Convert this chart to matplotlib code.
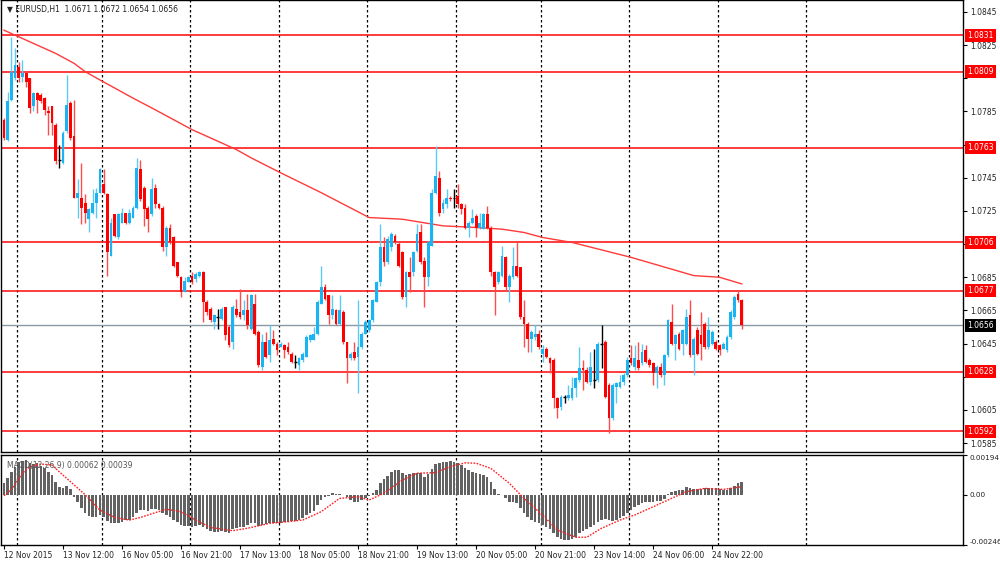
import numpy as np
import matplotlib
matplotlib.use("Agg")
import matplotlib.pyplot as plt
import matplotlib.transforms as mtransforms

# EURUSD H1 bars, 12 Nov 20:00 -> 25 Nov 05:00
opens = np.array([
    1.0780, 1.0768, 1.0792, 1.0805, 1.0812, 1.0806, 1.0808, 1.0805, 1.0788, 1.0796,
    1.0795, 1.0793, 1.0785, 1.0788, 1.0777, 1.0756, 1.0754, 1.0773, 1.0790, 1.0770,
    1.0733, 1.0733, 1.0730, 1.0720, 1.0724, 1.0730, 1.0736, 1.0741, 1.0735, 1.0698,
    1.0723, 1.0709, 1.0718, 1.0724, 1.0718, 1.0721, 1.0727, 1.0750, 1.0739, 1.0727,
    1.0723, 1.0739, 1.0729, 1.0727, 1.0703, 1.0715, 1.0709, 1.0694, 1.0685, 1.0676,
    1.0682, 1.0686, 1.0684, 1.0686, 1.0688, 1.0670, 1.0666, 1.0658, 1.0661, 1.0660,
    1.0667, 1.0655, 1.0646, 1.0666, 1.0664, 1.0662, 1.0665, 1.0654, 1.0669, 1.0652,
    1.0631, 1.0646, 1.0638, 1.0648, 1.0645, 1.0643, 1.0644, 1.0643, 1.0639, 1.0634,
    1.0632, 1.0635, 1.0637, 1.0647, 1.0647, 1.0651, 1.0669, 1.0679, 1.0674, 1.0662,
    1.0665, 1.0657, 1.0664, 1.0646, 1.0636, 1.0640, 1.0637, 1.0643, 1.0651, 1.0653,
    1.0659, 1.0670, 1.0682, 1.0703, 1.0694, 1.0703, 1.0710, 1.0705, 1.0700, 1.0673,
    1.0688, 1.0688, 1.0701, 1.0712, 1.0695, 1.0685, 1.0704, 1.0736, 1.0745, 1.0726,
    1.0729, 1.0733, 1.0733, 1.0734, 1.0729, 1.0727, 1.0715, 1.0718, 1.0722, 1.0715,
    1.0714, 1.0723, 1.0715, 1.0688, 1.0682, 1.0686, 1.0697, 1.0679, 1.0685, 1.0692,
    1.0691, 1.0661, 1.0657, 1.0648, 1.0649, 1.0651, 1.0639, 1.0642, 1.0636, 1.0635,
    1.0612, 1.0607, 1.0613, 1.0612, 1.0612, 1.0618, 1.0623, 1.0630, 1.0629, 1.0622,
    1.0623, 1.0623, 1.0645, 1.0646, 1.0620, 1.0600, 1.0619, 1.0619, 1.0622, 1.0626,
    1.0636, 1.0631, 1.0635, 1.0633, 1.0641, 1.0635, 1.0633, 1.0627, 1.0631, 1.0626,
    1.0638, 1.0658, 1.0645, 1.0651, 1.0645, 1.0645, 1.0662, 1.0638, 1.0653, 1.0650,
    1.0657, 1.0643, 1.0645, 1.0646, 1.0644, 1.0642, 1.0641, 1.0649, 1.0661, 1.0675,
    1.0671])
highs = np.array([
    1.0781, 1.0797, 1.0830, 1.0823, 1.0815, 1.0816, 1.0809, 1.0805, 1.0797, 1.0797,
    1.0796, 1.0794, 1.0788, 1.0788, 1.0778, 1.0765, 1.0773, 1.0807, 1.0791, 1.0792,
    1.0744, 1.0754, 1.0735, 1.0727, 1.0738, 1.0739, 1.0751, 1.0750, 1.0736, 1.0721,
    1.0723, 1.0724, 1.0727, 1.0724, 1.0726, 1.0728, 1.0757, 1.0756, 1.0740, 1.0728,
    1.0745, 1.0741, 1.0730, 1.0728, 1.0716, 1.0717, 1.0710, 1.0694, 1.0686, 1.0685,
    1.0686, 1.0688, 1.0688, 1.0689, 1.0689, 1.0671, 1.0667, 1.0663, 1.0666, 1.0667,
    1.0667, 1.0656, 1.0668, 1.0672, 1.0678, 1.0671, 1.0675, 1.0675, 1.0675, 1.0653,
    1.0651, 1.0652, 1.0656, 1.0653, 1.0646, 1.0646, 1.0645, 1.0646, 1.0640, 1.0638,
    1.0637, 1.0640, 1.0650, 1.0651, 1.0655, 1.0671, 1.0692, 1.0681, 1.0674, 1.0674,
    1.0666, 1.0674, 1.0665, 1.0646, 1.0640, 1.0646, 1.0671, 1.0652, 1.0659, 1.0660,
    1.0672, 1.0683, 1.0717, 1.0709, 1.0710, 1.0712, 1.0711, 1.0707, 1.0701, 1.0689,
    1.0697, 1.0701, 1.0717, 1.0717, 1.0697, 1.0707, 1.0738, 1.0764, 1.0749, 1.0732,
    1.0738, 1.0734, 1.0738, 1.0741, 1.0730, 1.0729, 1.0719, 1.0726, 1.0723, 1.0724,
    1.0724, 1.0728, 1.0716, 1.0689, 1.0689, 1.0704, 1.0698, 1.0687, 1.0703, 1.0707,
    1.0691, 1.0671, 1.0658, 1.0653, 1.0656, 1.0653, 1.0644, 1.0643, 1.0637, 1.0636,
    1.0613, 1.0614, 1.0614, 1.0620, 1.0625, 1.0625, 1.0643, 1.0635, 1.0631, 1.0640,
    1.0642, 1.0646, 1.0656, 1.0647, 1.0621, 1.0621, 1.0622, 1.0626, 1.0627, 1.0637,
    1.0644, 1.0644, 1.0646, 1.0645, 1.0644, 1.0636, 1.0634, 1.0632, 1.0633, 1.0639,
    1.0660, 1.0669, 1.0651, 1.0652, 1.0654, 1.0666, 1.0671, 1.0649, 1.0655, 1.0664,
    1.0658, 1.0661, 1.0653, 1.0647, 1.0645, 1.0646, 1.0650, 1.0665, 1.0674, 1.0677,
    1.0672])
lows = np.array([
    1.0768, 1.0767, 1.0791, 1.0804, 1.0803, 1.0803, 1.0800, 1.0784, 1.0785, 1.0784,
    1.0790, 1.0783, 1.0771, 1.0771, 1.0753, 1.0751, 1.0753, 1.0772, 1.0768, 1.0733,
    1.0721, 1.0717, 1.0718, 1.0712, 1.0723, 1.0721, 1.0736, 1.0735, 1.0686, 1.0698,
    1.0709, 1.0708, 1.0718, 1.0717, 1.0717, 1.0721, 1.0726, 1.0731, 1.0716, 1.0712,
    1.0722, 1.0727, 1.0726, 1.0701, 1.0698, 1.0705, 1.0691, 1.0685, 1.0673, 1.0676,
    1.0682, 1.0681, 1.0682, 1.0685, 1.0658, 1.0662, 1.0658, 1.0654, 1.0654, 1.0659,
    1.0647, 1.0643, 1.0642, 1.0661, 1.0660, 1.0659, 1.0654, 1.0653, 1.0650, 1.0631,
    1.0629, 1.0636, 1.0634, 1.0644, 1.0638, 1.0643, 1.0636, 1.0639, 1.0633, 1.0630,
    1.0629, 1.0634, 1.0637, 1.0646, 1.0647, 1.0650, 1.0669, 1.0671, 1.0657, 1.0660,
    1.0656, 1.0656, 1.0645, 1.0621, 1.0635, 1.0635, 1.0615, 1.0642, 1.0651, 1.0652,
    1.0658, 1.0670, 1.0680, 1.0692, 1.0693, 1.0701, 1.0705, 1.0691, 1.0672, 1.0667,
    1.0676, 1.0686, 1.0700, 1.0693, 1.0667, 1.0680, 1.0704, 1.0735, 1.0722, 1.0724,
    1.0727, 1.0731, 1.0727, 1.0727, 1.0723, 1.0714, 1.0709, 1.0717, 1.0709, 1.0714,
    1.0714, 1.0714, 1.0686, 1.0662, 1.0681, 1.0685, 1.0677, 1.0670, 1.0684, 1.0685,
    1.0660, 1.0643, 1.0640, 1.0640, 1.0647, 1.0642, 1.0634, 1.0636, 1.0627, 1.0606,
    1.0600, 1.0605, 1.0609, 1.0611, 1.0611, 1.0613, 1.0622, 1.0617, 1.0621, 1.0620,
    1.0618, 1.0622, 1.0630, 1.0612, 1.0591, 1.0599, 1.0609, 1.0618, 1.0620, 1.0625,
    1.0632, 1.0629, 1.0629, 1.0632, 1.0633, 1.0631, 1.0620, 1.0618, 1.0625, 1.0620,
    1.0637, 1.0644, 1.0635, 1.0641, 1.0638, 1.0644, 1.0637, 1.0626, 1.0638, 1.0635,
    1.0642, 1.0642, 1.0644, 1.0641, 1.0638, 1.0642, 1.0640, 1.0648, 1.0660, 1.0670,
    1.0654])
closes = np.array([
    1.0769, 1.0791, 1.0809, 1.0813, 1.0805, 1.0808, 1.0803, 1.0787, 1.0796, 1.0792,
    1.0791, 1.0786, 1.0784, 1.0778, 1.0755, 1.0756, 1.0772, 1.0789, 1.0769, 1.0733,
    1.0736, 1.0727, 1.0724, 1.0726, 1.0730, 1.0736, 1.0750, 1.0736, 1.0700, 1.0718,
    1.0710, 1.0723, 1.0724, 1.0718, 1.0724, 1.0727, 1.0751, 1.0732, 1.0726, 1.0720,
    1.0738, 1.0729, 1.0727, 1.0703, 1.0715, 1.0706, 1.0692, 1.0686, 1.0676, 1.0683,
    1.0685, 1.0682, 1.0687, 1.0688, 1.0670, 1.0664, 1.0659, 1.0662, 1.0661, 1.0666,
    1.0650, 1.0644, 1.0667, 1.0662, 1.0661, 1.0665, 1.0656, 1.0674, 1.0651, 1.0632,
    1.0646, 1.0637, 1.0647, 1.0645, 1.0641, 1.0645, 1.0641, 1.0640, 1.0634, 1.0634,
    1.0636, 1.0639, 1.0649, 1.0650, 1.0651, 1.0670, 1.0679, 1.0672, 1.0662, 1.0666,
    1.0657, 1.0665, 1.0646, 1.0636, 1.0639, 1.0636, 1.0643, 1.0651, 1.0658, 1.0659,
    1.0671, 1.0682, 1.0703, 1.0694, 1.0708, 1.0711, 1.0706, 1.0692, 1.0673, 1.0688,
    1.0685, 1.0700, 1.0711, 1.0694, 1.0685, 1.0706, 1.0736, 1.0746, 1.0724, 1.0730,
    1.0733, 1.0732, 1.0733, 1.0729, 1.0726, 1.0715, 1.0718, 1.0721, 1.0715, 1.0718,
    1.0723, 1.0715, 1.0688, 1.0679, 1.0688, 1.0698, 1.0679, 1.0686, 1.0692, 1.0686,
    1.0661, 1.0657, 1.0648, 1.0652, 1.0651, 1.0643, 1.0642, 1.0637, 1.0633, 1.0612,
    1.0606, 1.0613, 1.0613, 1.0614, 1.0618, 1.0624, 1.0630, 1.0629, 1.0622, 1.0631,
    1.0623, 1.0645, 1.0645, 1.0613, 1.0600, 1.0620, 1.0621, 1.0622, 1.0626, 1.0635,
    1.0633, 1.0636, 1.0630, 1.0640, 1.0634, 1.0632, 1.0627, 1.0631, 1.0626, 1.0638,
    1.0659, 1.0645, 1.0650, 1.0642, 1.0653, 1.0661, 1.0638, 1.0648, 1.0639, 1.0645,
    1.0643, 1.0653, 1.0652, 1.0642, 1.0641, 1.0645, 1.0649, 1.0664, 1.0673, 1.0671,
    1.0656])

# moving average line (bar index, value)
ma_idx = [0, 4, 8, 14, 19, 22, 26, 35, 41, 46, 51, 58, 63, 67, 75, 86, 99,
          108, 119, 128, 135, 141, 146, 154, 170, 187, 194, 200]
ma_vals = [1.0834, 1.0830, 1.0826, 1.0820, 1.0814, 1.0809, 1.0804, 1.0793,
           1.0786, 1.0780, 1.0774, 1.0767, 1.0762, 1.0757, 1.0748, 1.0736,
           1.0721, 1.0720, 1.0716, 1.0715, 1.0714, 1.0712, 1.0709, 1.0706,
           1.0697, 1.0686, 1.0685, 1.0681]

levels = [1.0831, 1.0809, 1.0763, 1.0706, 1.0677, 1.0628, 1.0592]
current = 1.0656

# MACD(12,26,9) histogram per bar, signal line samples
macd = np.array([
    0.00056, 0.00080, 0.00112, 0.00137, 0.00161, 0.00166, 0.00170, 0.00156, 0.00150, 0.00154,
    0.00140, 0.00129, 0.00112, 0.00096, 0.00064, 0.00039, 0.00034, 0.00043, 0.00026, -0.00010,
    -0.00034, -0.00067, -0.00088, -0.00104, -0.00111, -0.00108, -0.00099, -0.00108, -0.00129, -0.00137,
    -0.00140, -0.00140, -0.00132, -0.00124, -0.00124, -0.00111, -0.00091, -0.00075, -0.00075, -0.00078,
    -0.00071, -0.00071, -0.00075, -0.00088, -0.00099, -0.00108, -0.00124, -0.00132, -0.00148, -0.00153,
    -0.00153, -0.00160, -0.00153, -0.00148, -0.00160, -0.00169, -0.00176, -0.00181, -0.00181, -0.00176,
    -0.00181, -0.00186, -0.00169, -0.00164, -0.00160, -0.00156, -0.00148, -0.00137, -0.00137, -0.00153,
    -0.00148, -0.00145, -0.00140, -0.00140, -0.00140, -0.00137, -0.00132, -0.00132, -0.00129, -0.00127,
    -0.00124, -0.00115, -0.00099, -0.00088, -0.00078, -0.00050, -0.00026, -0.00013, -0.00006, 0.00007,
    0.00005, 0.00003, -0.00003, -0.00013, -0.00026, -0.00034, -0.00034, -0.00026, -0.00018, -0.00006,
    0.00007, 0.00023, 0.00056, 0.00075, 0.00091, 0.00112, 0.00121, 0.00121, 0.00105, 0.00096,
    0.00101, 0.00105, 0.00108, 0.00105, 0.00088, 0.00101, 0.00124, 0.00150, 0.00154, 0.00161,
    0.00161, 0.00166, 0.00161, 0.00156, 0.00145, 0.00129, 0.00121, 0.00112, 0.00108, 0.00101,
    0.00096, 0.00088, 0.00064, 0.00026, 0.00002, -0.00002, -0.00018, -0.00034, -0.00034, -0.00042,
    -0.00067, -0.00088, -0.00111, -0.00124, -0.00132, -0.00140, -0.00148, -0.00156, -0.00169, -0.00189,
    -0.00208, -0.00218, -0.00221, -0.00221, -0.00218, -0.00205, -0.00189, -0.00176, -0.00169, -0.00160,
    -0.00148, -0.00132, -0.00124, -0.00120, -0.00124, -0.00127, -0.00124, -0.00115, -0.00104, -0.00088,
    -0.00075, -0.00059, -0.00050, -0.00039, -0.00034, -0.00034, -0.00034, -0.00029, -0.00029, -0.00023,
    0.00002, 0.00015, 0.00020, 0.00023, 0.00023, 0.00039, 0.00031, 0.00026, 0.00029, 0.00029,
    0.00031, 0.00034, 0.00031, 0.00031, 0.00026, 0.00023, 0.00023, 0.00031, 0.00042, 0.00058,
    0.00062])
sig_idx = [0, 2, 5, 7, 10, 13, 15, 18, 22, 26, 30, 34, 37, 41, 44, 48, 52, 56,
           62, 66, 72, 77, 81, 86, 91, 96, 99, 103, 108, 112, 117, 121, 125, 128,
           132, 137, 141, 146, 150, 155, 158, 162, 167, 171, 176, 180, 185, 190,
           195, 200]
sig_vals = [-0.00005, 0.00025, 0.00105, 0.00137, 0.00150, 0.00145, 0.00112,
            0.00064, 0.0, -0.00075, -0.00111, -0.00124, -0.00111, -0.00088,
            -0.00071, -0.00083, -0.00124, -0.00160, -0.00176, -0.00164, -0.00140,
            -0.00132, -0.00124, -0.00083, -0.00018, -0.00010, -0.00026, 0.00007,
            0.00072, 0.00105, 0.00108, 0.00137, 0.00156, 0.00154, 0.00129,
            0.00056, -0.00018, -0.00099, -0.00173, -0.00208, -0.00208, -0.00164,
            -0.00124, -0.00099, -0.00059, -0.00026, 0.00015, 0.00031, 0.00026,
            0.00039]

# day separators and time labels (bar index)
day_starts = [3.5, 26.5, 50.5, 74.5, 98.5, 122.5, 145.5, 169.5, 193.5, 217.5]
time_idx = [0, 16, 32, 48, 64, 80, 96, 112, 128, 144, 160, 176, 192]
time_labels = ["12 Nov 2015", "13 Nov 12:00", "16 Nov 05:00", "16 Nov 21:00",
               "17 Nov 13:00", "18 Nov 05:00", "18 Nov 21:00", "19 Nov 13:00",
               "20 Nov 05:00", "20 Nov 21:00", "23 Nov 14:00", "24 Nov 06:00",
               "24 Nov 22:00"]

BULL = "#1ab4f2"
BEAR = "#ff0000"
FS = 5.5

fig = plt.figure(figsize=(10, 5.62), dpi=100)
ax = fig.add_axes([0.001, 0.1957, 0.962, 0.8043])
ax2 = fig.add_axes([0.001, 0.0302, 0.962, 0.1601])

x = np.arange(len(closes))
up = closes > opens
down = closes < opens
doji = closes == opens

# candles
wick_cols = np.where(up, "#5ccaf5", np.where(down, "#ff4d4d", "#000000"))
ax.vlines(x, lows, highs, colors=wick_cols, lw=1, zorder=2)
ax.bar(x[up], closes[up] - opens[up], bottom=opens[up], width=0.75,
       color=BULL, linewidth=0, zorder=3)
ax.bar(x[down], opens[down] - closes[down], bottom=closes[down], width=0.75,
       color=BEAR, linewidth=0, zorder=3)
ax.hlines(closes[doji], x[doji] - 0.4, x[doji] + 0.4, color="black", lw=1, zorder=3)

ax.plot(ma_idx, ma_vals, color="#ff3a3a", lw=1, zorder=2)

for lv in levels:
    ax.axhline(lv, color="#ff1a1a", lw=1.2, zorder=1)
ax.axhline(current, color="#8a99a3", lw=1, zorder=1)

for d in day_starts:
    ax.axvline(d, color="black", lw=0.9, ls=(0, (2, 2)), zorder=0.5)
    ax2.axvline(d, color="black", lw=0.9, ls=(0, (2, 2)), zorder=0.5)

ax.set_xlim(-0.81, 260.0)
ax.set_ylim(1.05796, 1.08522)
ax.set_xticks([])
ax.yaxis.tick_right()
yt = np.round(np.arange(1.0585, 1.0846, 0.0020), 4)
ax.set_yticks(yt)
# scale labels hidden behind the level boxes are left blank
hidden = [any(abs(v - lv) < 0.00045 for lv in levels + [current]) for v in yt]
ax.set_yticklabels(["" if h else f"{v:.4f}" for v, h in zip(yt, hidden)])
ax.tick_params(axis="y", direction="out", length=3, width=0.8,
               labelsize=FS, pad=2, labelcolor="#222222")

trans = mtransforms.blended_transform_factory(ax.transAxes, ax.transData)
for lv in levels:
    ax.text(1.0045, lv, f"{lv:.4f}", transform=trans, ha="left", va="center",
            fontsize=FS, color="white", clip_on=False, zorder=6,
            bbox=dict(boxstyle="square,pad=0.25", fc="#ff0000", ec="none"))
ax.text(1.0045, current, f"{current:.4f}", transform=trans, ha="left",
        va="center", fontsize=FS, color="white", clip_on=False, zorder=6,
        bbox=dict(boxstyle="square,pad=0.25", fc="#000000", ec="none"))

title = (f"\u25bc EURUSD,H1  {opens[-1]:.4f} {highs[-1]:.4f} "
         f"{lows[-1]:.4f} {closes[-1]:.4f}")
ax.text(0.006, 0.988, title, transform=ax.transAxes, ha="left", va="top",
        fontsize=FS, color="#222222", zorder=6)

# MACD panel
ax2.bar(x, macd, width=0.7, color="#626262", linewidth=0, zorder=2)
ax2.plot(sig_idx, sig_vals, color="#ff2020", lw=1, ls=(0, (1.2, 1)), zorder=3)
ax2.set_xlim(-0.81, 260.0)
ax2.set_ylim(-0.00246, 0.00194)
ax2.yaxis.tick_right()
ax2.set_yticks([-0.00246, 0.0, 0.00194])
ax2.set_yticklabels(["-0.00246", "0.00", "0.00194"])
for lab, va in zip(ax2.get_yticklabels(), ["bottom", "center", "top"]):
    lab.set_va(va)
ax2.tick_params(axis="y", direction="out", length=3, width=0.8,
                labelsize=5.2, pad=1.5, labelcolor="#222222")
ax2.set_xticks(time_idx)
ax2.set_xticklabels(time_labels, ha="left")
ax2.tick_params(axis="x", direction="out", length=3, width=0.8,
                labelsize=FS, pad=1.5, labelcolor="#222222")
ax2.text(0.006, 0.93, f"MACD(12,26,9) {macd[-1]:.5f} {sig_vals[-1]:.5f}",
         transform=ax2.transAxes, ha="left", va="top", fontsize=FS,
         color="#555555", zorder=6)

for a in (ax, ax2):
    for s in a.spines.values():
        s.set_color("black")
        s.set_linewidth(1)

fig.savefig("out.png", dpi=100, facecolor="white")
